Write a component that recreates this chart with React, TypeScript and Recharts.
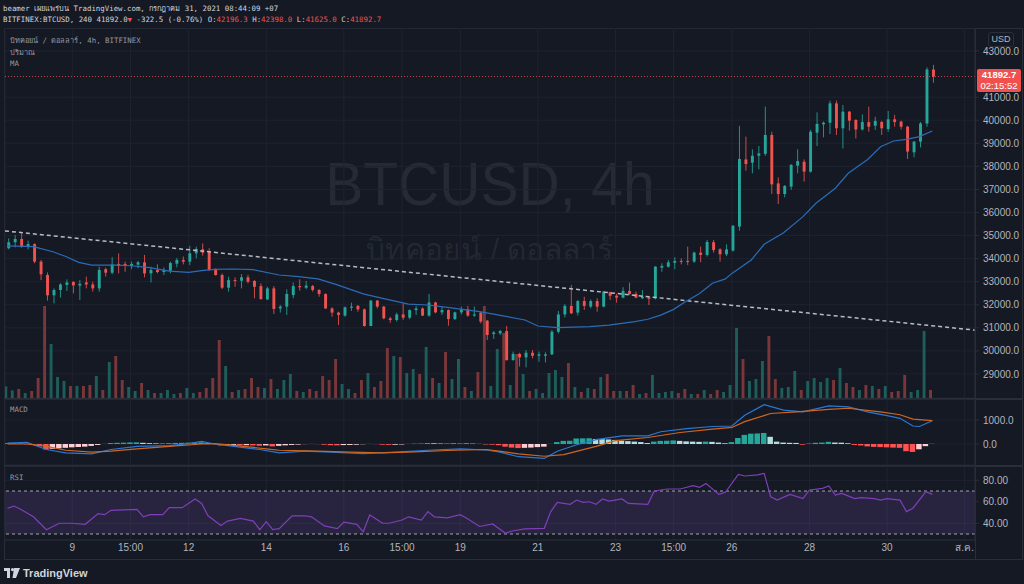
import React from "react";
import {
  ComposedChart,
  Bar,
  Line,
  XAxis,
  YAxis,
  CartesianGrid,
  ReferenceLine,
  ReferenceArea,
  Cell,
} from "recharts";

// 4h candles, BITFINEX:BTCUSD, [open, high, low, close]
const candles: [number, number, number, number][] = [
  [34450, 34880, 34400, 34710], [34710, 35020, 34490, 34850], [34850, 35100, 34470, 34520], [34520, 34780, 34400, 34630],
  [34630, 34660, 33800, 33870], [33870, 33940, 33070, 33320], [33290, 33400, 32180, 32410], [32410, 32710, 32060, 32640],
  [32640, 32930, 32310, 32880], [32860, 33100, 32600, 32970], [32990, 33020, 32500, 32840], [32830, 33070, 32210, 32910],
  [32970, 33220, 32710, 32880], [32880, 33000, 32570, 32710], [32710, 33650, 32570, 33510], [33540, 33610, 33220, 33390],
  [33390, 34060, 33320, 33750], [33770, 34230, 33360, 33690], [33770, 33870, 33430, 33710], [33680, 33870, 33540, 33770],
  [33740, 33900, 33580, 33840], [33840, 34160, 33190, 33360], [33360, 33650, 32970, 33510], [33510, 33750, 33360, 33420],
  [33420, 33620, 33290, 33510], [33480, 33870, 33360, 33810], [33780, 34030, 33620, 33940], [33940, 34090, 33750, 33870],
  [33870, 34550, 33720, 34230], [34230, 34520, 34010, 34420], [34400, 34660, 34130, 34260], [34300, 34450, 33460, 33510],
  [33550, 33580, 33260, 33290], [33290, 33360, 32680, 32740], [32740, 33220, 32570, 33070], [33070, 33190, 32780, 33030],
  [33040, 33330, 32710, 33190], [33190, 33300, 32930, 33000], [33030, 33070, 32280, 32780], [32810, 32930, 32210, 32250],
  [32230, 32780, 32210, 32710], [32710, 32810, 31600, 31820], [31840, 31990, 31660, 31920], [31920, 32670, 31560, 32470],
  [32420, 32960, 32280, 32810], [32810, 33100, 32610, 32760], [32740, 33030, 32670, 32830], [32810, 32860, 32570, 32640],
  [32640, 32680, 32350, 32470], [32470, 32490, 31820, 31840], [31840, 31890, 31480, 31660], [31660, 31700, 31120, 31560],
  [31530, 31920, 31480, 31890], [31870, 32090, 31730, 31920], [31950, 31990, 31700, 31800], [31800, 31840, 31050, 31080],
  [31080, 32210, 31070, 32180], [32180, 32210, 31840, 31920], [31920, 31950, 31370, 31410], [31410, 31480, 31220, 31340],
  [31340, 31660, 31270, 31580], [31580, 32060, 31340, 31440], [31440, 31800, 31370, 31770], [31770, 31950, 31560, 31840],
  [31840, 31890, 31510, 31530], [31530, 32470, 31480, 32100], [32100, 32130, 31630, 31670], [31670, 31920, 31560, 31770],
  [31770, 31800, 31090, 31380], [31380, 31700, 31340, 31670], [31670, 31920, 31580, 31800], [31800, 31950, 31480, 31530],
  [31530, 31920, 31480, 31580], [31660, 31700, 31190, 31270], [31310, 31340, 30470, 30690], [30730, 30860, 30520, 30800],
  [30760, 30910, 30690, 30860], [30860, 31080, 29580, 29600], [29600, 29970, 29580, 29870], [29870, 29920, 29320, 29720],
  [29720, 30040, 29290, 29920], [29920, 30040, 29680, 29790], [29790, 29970, 29530, 29850], [29790, 29940, 29500, 29850],
  [29850, 30910, 29820, 30830], [30830, 31730, 30760, 31580], [31580, 32030, 31450, 31950], [31950, 32860, 31600, 31630],
  [31660, 32210, 31530, 32160], [32160, 32350, 31770, 31950], [31920, 32230, 31840, 32160], [32160, 32280, 31700, 31920],
  [31920, 32600, 31890, 32570], [32540, 32570, 32210, 32390], [32390, 32470, 32090, 32310], [32310, 32760, 32280, 32600],
  [32600, 32960, 32420, 32470], [32470, 32570, 32280, 32310], [32280, 32640, 32250, 32350], [32320, 32350, 31990, 32260],
  [32280, 33680, 32230, 33650], [33610, 33800, 33430, 33680], [33650, 33940, 33610, 33840], [33820, 34060, 33540, 33900],
  [33900, 34010, 33750, 33870], [33900, 34520, 33720, 33870], [33870, 34300, 33820, 34260], [34260, 34520, 33840, 34160],
  [34160, 34810, 34090, 34720], [34710, 34810, 34260, 34370], [34400, 34450, 33870, 34190], [34190, 34620, 34110, 34400],
  [34350, 35430, 34300, 35430], [35390, 39750, 35210, 38320], [38300, 39290, 37810, 38100], [38160, 38740, 37700, 38460],
  [38460, 38880, 37870, 38560], [38540, 40590, 38450, 39360], [39360, 39500, 36800, 37220], [37260, 37520, 36370, 36800],
  [36800, 37190, 36660, 37150], [37120, 38100, 36980, 38060], [38030, 38740, 37700, 38230], [38200, 38300, 37340, 37770],
  [37770, 39580, 37730, 39500], [39460, 40340, 38880, 39840], [39820, 39940, 39260, 39890], [39890, 40850, 39400, 40730],
  [40730, 40850, 39360, 39650], [39650, 40660, 38780, 40370], [40370, 40400, 39550, 39980], [40010, 40040, 39210, 39600],
  [39600, 40250, 39550, 39920], [39920, 40590, 39500, 39720], [39760, 40150, 39580, 39970], [39920, 39970, 39360, 39650],
  [39620, 40400, 39500, 40040], [40040, 40230, 39720, 39920], [39940, 39980, 39600, 39720], [39720, 39750, 38320, 38640],
  [38610, 39100, 38390, 39070], [39070, 39920, 38820, 39860], [39860, 42290, 39720, 42200], [42196.3, 42398, 41625, 41892.7],
];

const volume: number[] = [
  350, 230, 270, 150, 210, 600, 2760, 1620, 630, 510, 360, 360, 360, 390, 660, 240, 1080, 1260, 540, 330,
  210, 450, 240, 150, 150, 240, 120, 150, 300, 150, 180, 300, 600, 1740, 960, 180, 240, 270, 600, 330,
  300, 570, 270, 540, 720, 210, 180, 270, 210, 660, 540, 1170, 420, 270, 150, 540, 750, 330, 510, 1500,
  1260, 1230, 750, 870, 720, 1530, 600, 450, 1380, 570, 1170, 330, 210, 780, 2760, 360, 1470, 1950, 390, 1320,
  720, 210, 270, 150, 750, 840, 630, 1050, 330, 180, 300, 270, 630, 720, 210, 210, 210, 390, 120, 150,
  690, 150, 180, 210, 150, 270, 120, 120, 240, 120, 240, 180, 390, 2100, 1170, 510, 570, 1110, 1860, 570,
  300, 330, 810, 240, 510, 600, 480, 600, 540, 900, 450, 330, 240, 390, 360, 270, 360, 180, 210, 690,
  180, 240, 2010, 240,
];

// moving average, read at [candle index, price]
const maPoints: [number, number][] = [
  [0, 34550], [4, 34520], [7, 34300], [9, 34090], [11, 33840], [13, 33720], [17, 33720], [19, 33690],
  [22, 33610], [25, 33460], [28, 33400], [30, 33480], [32, 33530], [35, 33550], [38, 33520], [42, 33290],
  [45, 33220], [48, 33120], [51, 32860], [55, 32470], [58, 32280], [62, 32030], [65, 31990], [68, 31890],
  [73, 31700], [76, 31550], [80, 31340], [82, 31080], [85, 31010], [90, 31050], [93, 31120], [97, 31270],
  [99, 31370], [101, 31550], [103, 31800], [105, 32160], [107, 32490], [109, 32930], [111, 33120], [112, 33360],
  [115, 33940], [117, 34620], [120, 35120], [123, 35820], [125, 36400], [128, 37050], [130, 37700], [133, 38300],
  [135, 38850], [137, 39100], [139, 39170], [141, 39290], [143, 39530],
];

const macdPoints: [number, number][] = [
  [0, 40], [3, 70], [6, -230], [9, -370], [13, -410], [16, -230], [20, -100], [25, -70], [28, 15], [30, 110],
  [32, 0], [35, -100], [39, -230], [42, -370], [46, -300], [50, -340], [55, -400], [60, -340], [65, -260],
  [70, -200], [74, -250], [76, -330], [79, -530], [83, -600], [85, -300], [88, -30], [91, 180], [95, 340],
  [99, 340], [101, 510], [105, 640], [109, 730], [112, 750], [114, 1200], [117, 1640], [120, 1410], [123, 1340],
  [127, 1590], [130, 1550], [133, 1340], [136, 1180], [138, 1070], [140, 750], [141, 730], [143, 970],
];

const signalPoints: [number, number][] = [
  [0, 0], [3, 0], [6, -100], [9, -260], [13, -340], [16, -300], [20, -200], [25, -100], [30, 0], [32, 15],
  [35, -55], [40, -200], [42, -260], [48, -300], [53, -340], [58, -370], [63, -330], [68, -270], [74, -230],
  [76, -300], [79, -410], [83, -510], [86, -440], [91, -100], [94, 140], [99, 270], [104, 480], [109, 620],
  [112, 690], [114, 930], [118, 1270], [122, 1340], [127, 1440], [130, 1490], [135, 1340], [138, 1220],
  [140, 1040], [143, 970],
];

const histogram: number[] = [
  20, 25, 10, -10, -40, -90, -230, -200, -180, -160, -140, -125, -110, -80, -40, 5, 40, 50, 55, 65,
  70, 50, 35, 25, 15, 35, 45, 50, 55, 65, 70, 30, 0, -60, -50, -40, -60, -50, -60, -75,
  -60, -100, -75, -55, -40, -25, -5, 5, -5, -30, -50, -55, -45, -40, -30, -10, 5, -5, -30, -35,
  -30, -20, 5, 15, 20, 40, 30, 20, 25, 20, 25, 20, 15, 5, -20, -30, -50, -110, -150, -170,
  -160, -150, -130, -110, 5, 80, 130, 135, 230, 235, 240, 210, 200, 190, 170, 140, 120, 100, 80, 40,
  100, 130, 135, 150, 130, 110, 100, 90, 100, 90, 60, 30, 80, 250, 380, 430, 440, 460, 300, 100,
  60, 50, 45, -30, 20, 50, 60, 90, 60, 55, 30, -40, -60, -100, -120, -130, -140, -150, -160, -300,
  -330, -220, -90, 10,
];

const rsiPoints: [number, number][] = [
  [0, 54], [1, 56], [2, 53], [4, 46], [6, 34], [8, 40], [10, 40], [12, 39], [14, 49], [15, 48], [16, 52],
  [20, 53], [21, 46], [22, 48], [24, 48], [25, 54.5], [27, 54.5], [29, 62.5], [30, 58.5], [31, 47], [33, 38],
  [34, 42], [36, 44.5], [38, 42], [39, 34], [40, 41.5], [41, 34], [42, 35], [44, 46.8], [46, 47], [47, 46],
  [49, 37.5], [51, 35], [52, 41], [54, 39], [55, 32], [56, 47.7], [58, 40], [59, 40], [61, 43], [62, 46],
  [64, 43], [65, 50.8], [66, 46], [68, 45], [70, 48], [71, 44.6], [73, 37], [75, 39.3], [77, 30.6], [78, 32.8],
  [80, 34.7], [83, 35.3], [84, 50.8], [85, 59.5], [87, 57.6], [88, 61.6], [89, 59.5], [90, 60], [91, 57.6],
  [92, 62.6], [93, 60.7], [95, 62.6], [96, 58.5], [99, 57.6], [100, 70], [102, 71.9], [104, 71.9], [106, 75],
  [107, 73.4], [108, 77], [110, 66.9], [111, 68.8], [113, 85.5], [114, 84], [116, 85], [117, 86.4], [118, 64.7],
  [119, 61.6], [121, 66.9], [123, 63], [124, 71], [126, 72.5], [127, 74.7], [128, 66.3], [129, 67.8], [131, 63],
  [132, 63.8], [134, 63], [135, 61.6], [136, 63], [138, 61.6], [139, 50.8], [140, 54], [142, 69.4], [143, 66.9],
];

const timeTicks: [number, string][] = [
  [10, "9"], [19, "15:00"], [28, "12"], [40, "14"], [52, "16"], [61, "15:00"], [70, "19"],
  [82, "21"], [94, "23"], [103, "15:00"], [112, "26"], [124, "28"], [136, "30"], [148, "ส.ค."],
];

// 42000 sits under the last-price badge, so it is not labelled
const priceTicks = [29000, 30000, 31000, 32000, 33000, 34000, 35000, 36000, 37000, 38000, 39000, 40000, 41000, 43000];
const lastPrice = 41892.7;
const trendLine = { fromIdx: -0.4, fromPrice: 35200, toIdx: 149.6, toPrice: 30900 };

const BG = "#151924";
const GRID = "#1f2330";
const BORDER = "#2a2e39";
const GREEN = "#26a69a";
const RED = "#ef5350";
const TEXT = "#b2b5be";
const SANS = '"Liberation Sans", Arial, sans-serif';
const MONO = '"DejaVu Sans Mono", "Liberation Mono", monospace';
const X_DOMAIN: [number, number] = [-0.4, 149.6];
const xTickValues = timeTicks.map((t) => t[0]);

type Row = {
  i: number; o: number; h: number; l: number; c: number;
  range: [number, number]; vol: number; hist: number;
  ma?: number; macd?: number; signal?: number; rsi?: number;
};

const rows: Row[] = candles.map(([o, h, l, c], i) => ({
  i, o, h, l, c, range: [l, h], vol: volume[i], hist: histogram[i],
}));
maPoints.forEach(([i, v]) => (rows[i].ma = v));
macdPoints.forEach(([i, v]) => (rows[i].macd = v));
signalPoints.forEach(([i, v]) => (rows[i].signal = v));
rsiPoints.forEach(([i, v]) => (rows[i].rsi = v));

const histColor = (i: number) => {
  const v = histogram[i];
  const prev = i > 0 ? histogram[i - 1] : v;
  if (v >= 0) return v > prev ? "#26a69a" : "#b2dfdb";
  return v < prev ? "#ff5252" : "#ffcdd2";
};

function Candle(props: any) {
  const { x, y, width, height, payload } = props;
  if (!payload || x == null) return null;
  const { o, h, l, c } = payload;
  const top = Math.min(y, y + height);
  const span = Math.abs(height);
  const k = h === l ? 0 : span / (h - l);
  const yO = top + (h - o) * k;
  const yC = top + (h - c) * k;
  const color = c >= o ? GREEN : RED;
  const cx = x + width / 2;
  return (
    <g>
      <line x1={cx} x2={cx} y1={top} y2={top + span} stroke={color} strokeOpacity={0.85} strokeWidth={1} />
      <rect x={x} y={Math.min(yO, yC)} width={width} height={Math.max(1, Math.abs(yO - yC))} fill={color} />
    </g>
  );
}

const axisTick = { fill: TEXT, fontSize: 10, fontFamily: SANS };

function TvLogo() {
  return (
    <svg width={16} height={10} viewBox="0 0 16 10">
      <rect x={0} y={0} width={6} height={3} fill="#d1d4dc" />
      <rect x={3} y={0} width={3} height={10} fill="#d1d4dc" />
      <circle cx={8.5} cy={1.6} r={1.6} fill="#d1d4dc" />
      <polygon points="10,0 16,0 12,10 8.5,10" fill="#d1d4dc" />
    </svg>
  );
}

export default function App() {
  const abs = (top: number): React.CSSProperties => ({ position: "absolute", left: 0, top });
  return (
    <div style={{ position: "fixed", left: 0, top: 0, width: 1024, height: 584, background: BG, overflow: "hidden", fontFamily: SANS }}>
      {/* header */}
      <div style={{ position: "absolute", left: 3, top: 3, fontFamily: MONO, fontSize: 7.4, color: "#d1d4dc", lineHeight: "11px", whiteSpace: "pre" }}>
        <div>beamer เผยแพร่บน TradingView.com, กรกฎาคม 31, 2021 08:44:09 +07</div>
        <div>
          BITFINEX:BTCUSD, 240 41892.0<span style={{ color: RED }}>▼</span> -322.5 (-0.76%) O:<span style={{ color: RED }}>42196.3</span> H:<span style={{ color: RED }}>42398.0</span> L:<span style={{ color: RED }}>41625.0</span> C:<span style={{ color: RED }}>41892.7</span>
        </div>
      </div>

      {/* pane frame */}
      <div style={{ position: "absolute", left: 4, top: 28, width: 1019, height: 532, border: `1px solid ${BORDER}`, boxSizing: "border-box" }} />
      <div style={{ position: "absolute", left: 975, top: 28, width: 1, height: 532, background: BORDER }} />
      <div style={{ position: "absolute", left: 4, top: 398, width: 1019, height: 2, background: BORDER }} />
      <div style={{ position: "absolute", left: 4, top: 465, width: 1019, height: 2, background: BORDER }} />

      {/* watermark */}
      <div style={{ position: "absolute", left: 240, top: 148, width: 500, textAlign: "center", fontSize: 62, color: "rgba(178,181,190,0.11)", fontFamily: SANS, transform: "scaleX(0.92)" }}>
        BTCUSD, 4h
      </div>
      <div style={{ position: "absolute", left: 240, top: 226, width: 500, textAlign: "center", fontSize: 30, color: "rgba(178,181,190,0.11)", fontFamily: SANS }}>
        บิทคอยน์ / ดอลลาร์
      </div>

      {/* price pane */}
      <div style={abs(28)}>
        <ComposedChart width={1024} height={370} data={rows} margin={{ top: 0, right: 0, bottom: 0, left: 5 }}>
          <CartesianGrid stroke={GRID} />
          <XAxis dataKey="i" type="number" domain={X_DOMAIN} ticks={xTickValues} hide allowDataOverflow />
          <YAxis
            orientation="right"
            width={49}
            domain={[27958, 43997]}
            ticks={priceTicks}
            allowDataOverflow
            tickFormatter={(v: number) => v.toFixed(1)}
            tick={axisTick}
            tickSize={4}
            tickMargin={4}
            axisLine={{ stroke: BORDER }}
            tickLine={{ stroke: BORDER }}
          />
          <YAxis yAxisId="vol" hide domain={[0, 11100]} />
          <Bar yAxisId="vol" dataKey="vol" barSize={5.5} isAnimationActive={false}>
            {rows.map((r) => (
              <Cell key={r.i} fill={r.c >= r.o ? "#1e5e5a" : "#7a373a"} />
            ))}
          </Bar>
          <ReferenceLine y={lastPrice} stroke={RED} strokeDasharray="1 2" strokeOpacity={0.8} />
          <ReferenceLine
            segment={[
              { x: trendLine.fromIdx, y: trendLine.fromPrice },
              { x: trendLine.toIdx, y: trendLine.toPrice },
            ]}
            stroke="#b8bbc4"
            strokeWidth={1.5}
            strokeDasharray="4 3"
          />
          <Line dataKey="ma" stroke="#2b6cb5" strokeWidth={1.2} dot={false} connectNulls isAnimationActive={false} />
          <Bar dataKey="range" barSize={5} shape={<Candle />} isAnimationActive={false} />
        </ComposedChart>
      </div>

      {/* MACD pane */}
      <div style={abs(399)}>
        <ComposedChart width={1024} height={66} data={rows} margin={{ top: 0, right: 0, bottom: 0, left: 5 }}>
          <CartesianGrid stroke={GRID} />
          <XAxis dataKey="i" type="number" domain={X_DOMAIN} ticks={xTickValues} hide allowDataOverflow />
          <YAxis
            orientation="right"
            width={49}
            domain={[-875, 1875]}
            ticks={[0, 1000]}
            allowDataOverflow
            tickFormatter={(v: number) => v.toFixed(1)}
            tick={axisTick}
            tickSize={4}
            tickMargin={4}
            axisLine={{ stroke: BORDER }}
            tickLine={{ stroke: BORDER }}
          />
          <Bar dataKey="hist" barSize={5.5} isAnimationActive={false}>
            {rows.map((r) => (
              <Cell key={r.i} fill={histColor(r.i)} />
            ))}
          </Bar>
          <Line dataKey="macd" stroke="#2a78d6" strokeWidth={1.2} dot={false} connectNulls isAnimationActive={false} />
          <Line dataKey="signal" stroke="#d0661e" strokeWidth={1.2} dot={false} connectNulls isAnimationActive={false} />
        </ComposedChart>
      </div>

      {/* RSI pane + time axis */}
      <div style={abs(466)}>
        <ComposedChart width={1024} height={94} data={rows} margin={{ top: 0, right: 0, bottom: 0, left: 5 }}>
          <CartesianGrid stroke={GRID} />
          <XAxis
            dataKey="i"
            type="number"
            domain={X_DOMAIN}
            ticks={xTickValues}
            allowDataOverflow
            height={20}
            tickFormatter={(v: number) => (timeTicks.find((t) => t[0] === v) || [0, ""])[1]}
            tick={axisTick}
            tickLine={false}
            tickSize={3}
            tickMargin={1}
            axisLine={{ stroke: BORDER }}
          />
          <YAxis
            orientation="right"
            width={49}
            domain={[24.4, 93.3]}
            ticks={[40, 60, 80]}
            allowDataOverflow
            tickFormatter={(v: number) => v.toFixed(2)}
            tick={axisTick}
            tickSize={4}
            tickMargin={4}
            axisLine={{ stroke: BORDER }}
            tickLine={{ stroke: BORDER }}
          />
          <ReferenceArea y1={30} y2={70} fill="#7e57c2" fillOpacity={0.18} stroke="none" />
          <ReferenceLine y={70} stroke="#a3a6af" strokeDasharray="3 3" />
          <ReferenceLine y={30} stroke="#a3a6af" strokeDasharray="3 3" />
          <Line dataKey="rsi" stroke="#7e3fb8" strokeWidth={1.2} dot={false} connectNulls isAnimationActive={false} />
        </ComposedChart>
      </div>

      {/* pane labels */}
      <div style={{ position: "absolute", left: 10, top: 35, fontFamily: MONO, fontSize: 7.4, color: "#9598a1", lineHeight: "11.5px", whiteSpace: "pre" }}>
        <div>บิทคอยน์ / ดอลลาร์, 4h, BITFINEX</div>
        <div>ปริมาณ</div>
        <div>MA</div>
      </div>
      <div style={{ position: "absolute", left: 10, top: 405, fontFamily: MONO, fontSize: 7.4, color: "#9598a1" }}>MACD</div>
      <div style={{ position: "absolute", left: 10, top: 473, fontFamily: MONO, fontSize: 7.4, color: "#9598a1" }}>RSI</div>

      {/* currency badge and last price label */}
      <div style={{ position: "absolute", left: 988, top: 32, width: 24, height: 13, border: `1px solid ${BORDER}`, borderRadius: 3, color: TEXT, fontSize: 9, lineHeight: "13px", textAlign: "center" }}>
        USD
      </div>
      <div style={{ position: "absolute", left: 977, top: 69, width: 44, height: 23, background: "#f0514f", borderRadius: 2, color: "#fff", fontSize: 9.5, lineHeight: "11px", textAlign: "center" }}>
        <div style={{ fontWeight: 700 }}>41892.7</div>
        <div>02:15:52</div>
      </div>

      {/* footer */}
      <div style={{ position: "absolute", left: 4, top: 567, display: "flex", alignItems: "center", gap: 3, color: "#d1d4dc", fontSize: 11, fontWeight: 700, fontFamily: SANS }}>
        <TvLogo />
        <span>TradingView</span>
      </div>
    </div>
  );
}
